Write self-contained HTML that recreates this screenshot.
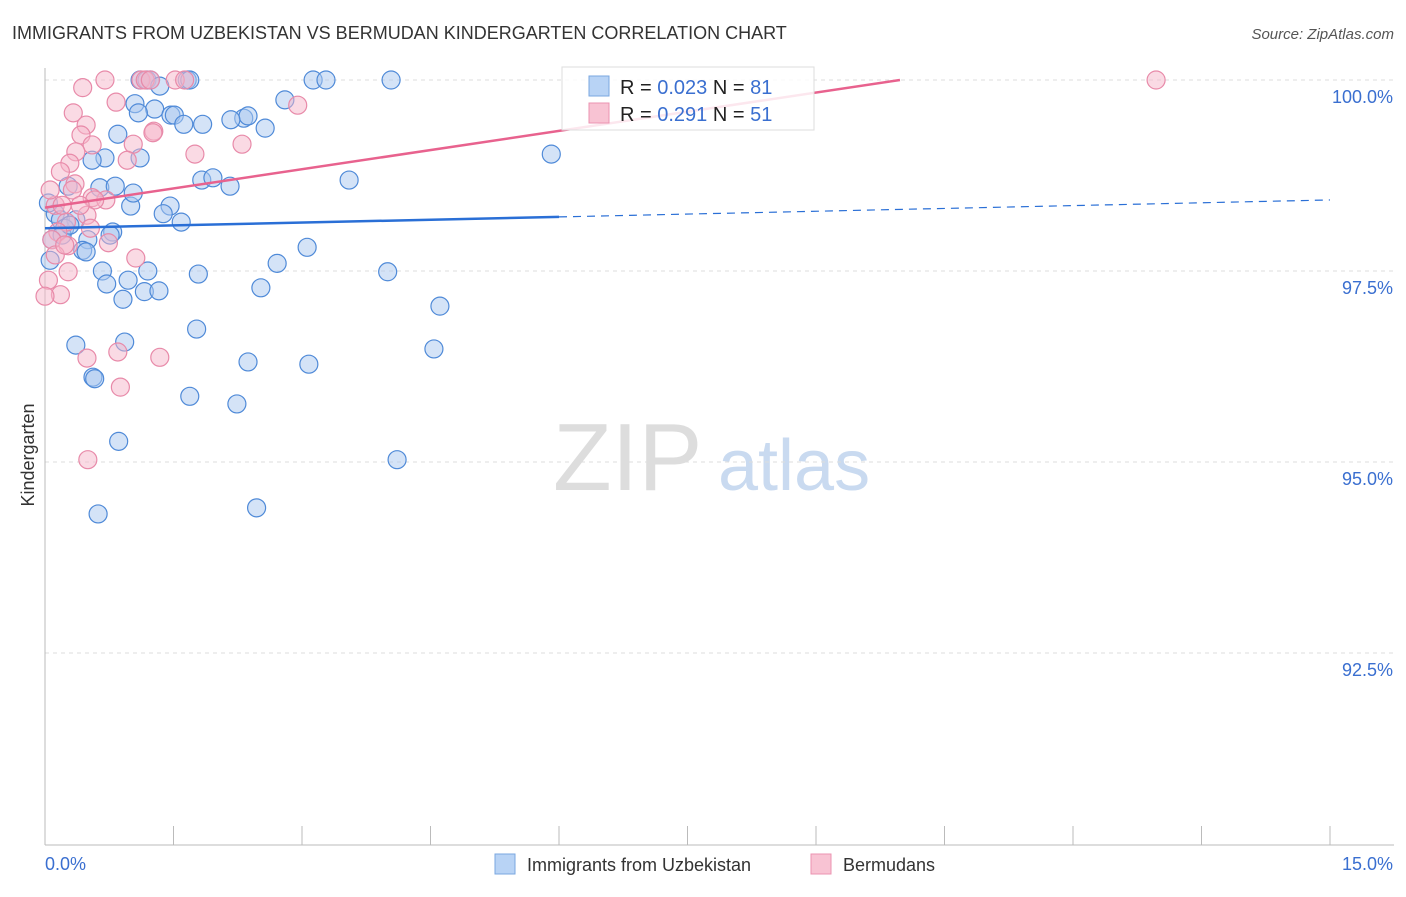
<!DOCTYPE html>
<html><head><meta charset="utf-8"><style>
body{margin:0;background:#fff;font-family:"Liberation Sans",sans-serif;}
svg text{font-family:"Liberation Sans",sans-serif;}
</style></head><body>
<svg id="chart" width="1406" height="892" xmlns="http://www.w3.org/2000/svg">
<text x="12" y="39" font-size="18" fill="#333">IMMIGRANTS FROM UZBEKISTAN VS BERMUDAN KINDERGARTEN CORRELATION CHART</text>
<text x="1394" y="39" font-size="15" fill="#555" font-style="italic" text-anchor="end">Source: ZipAtlas.com</text>
<text transform="translate(34,455) rotate(-90)" font-size="18" fill="#333" text-anchor="middle">Kindergarten</text>
<g>
<text x="553" y="490" font-size="96" fill="#ddd" font-family="Liberation Serif">ZIP</text>
<text x="718" y="490" font-size="72" fill="#c9daf0">atlas</text>
</g>
<g id="grid"></g><g id="axes"></g><g id="pts"></g><g id="lines"></g>
<g>
<rect x="562" y="67" width="252" height="63" fill="#fff" fill-opacity="0.85" stroke="#ddd"/>
<rect x="589" y="76" width="20" height="20" fill="#b8d3f5" stroke="#7aa7e0"/>
<rect x="589" y="103" width="20" height="20" fill="#f8c3d3" stroke="#eb93b0"/>
<text x="620" y="94" font-size="20" fill="#222">R = <tspan fill="#3a6fd0">0.023</tspan>   N = <tspan fill="#3a6fd0">81</tspan></text>
<text x="620" y="121" font-size="20" fill="#222">R =  <tspan fill="#3a6fd0">0.291</tspan>   N = <tspan fill="#3a6fd0">51</tspan></text>
</g>
<g>
<rect x="495" y="854" width="20" height="20" fill="#b8d3f5" stroke="#7aa7e0"/>
<text x="527" y="871" font-size="18" fill="#333">Immigrants from Uzbekistan</text>
<rect x="811" y="854" width="20" height="20" fill="#f8c3d3" stroke="#eb93b0"/>
<text x="843" y="871" font-size="18" fill="#333">Bermudans</text>
</g>
</svg>
<script>
const blueX=[1.11,1.19,1.23,1.66,1.69,3.13,3.28,4.04,1.34,1.05,1.28,1.09,1.47,1.51,2.80,2.32,2.37,2.17,1.62,1.84,2.57,0.85,0.70,0.55,1.11,5.91,1.83,1.96,2.16,3.55,0.64,0.82,0.27,1.00,1.03,1.46,1.38,1.59,0.12,0.18,0.36,0.04,0.23,0.79,0.76,0.50,3.06,0.44,0.48,0.06,0.67,1.20,1.79,2.71,4.00,0.97,0.72,1.16,1.33,0.91,2.52,4.61,1.77,0.93,0.36,4.54,2.37,3.08,0.56,0.58,1.69,2.24,0.86,4.11,2.47,0.62,0.08,0.20,0.29];
const blueY=[100,100,100,100,100,100,100,100,99.92,99.69,99.62,99.57,99.54,99.54,99.74,99.50,99.53,99.48,99.42,99.42,99.37,99.29,98.98,98.95,98.98,99.03,98.69,98.72,98.61,98.69,98.59,98.61,98.61,98.35,98.52,98.35,98.25,98.14,98.25,98.17,98.17,98.39,98.06,98.01,97.97,97.91,97.81,97.77,97.75,97.64,97.50,97.50,97.46,97.60,97.49,97.38,97.33,97.23,97.24,97.13,97.28,97.04,96.74,96.57,96.53,96.48,96.31,96.28,96.11,96.09,95.86,95.76,95.27,95.03,94.40,94.32,97.91,97.97,98.10];
const pinkX=[0.70,1.12,1.17,1.23,1.52,1.63,12.97,0.44,0.83,2.95,0.33,0.48,0.42,1.27,1.26,0.55,1.03,2.30,0.36,0.96,1.75,0.29,0.18,0.35,0.32,0.55,0.71,0.58,0.12,0.49,0.25,0.15,0.53,0.08,0.74,0.27,1.06,0.04,0.18,0.27,0.49,0.85,1.34,0.88,0.50,0.12,0.06,0.20,0.00,0.41,0.23];
const pinkY=[100,100,100,100,100,100,100,99.90,99.71,99.67,99.57,99.41,99.28,99.33,99.31,99.15,99.16,99.16,99.06,98.95,99.03,98.91,98.80,98.64,98.56,98.46,98.43,98.43,98.36,98.23,98.14,98.01,98.06,97.91,97.87,97.83,97.67,97.38,97.19,97.49,96.36,96.44,96.37,95.98,95.03,97.71,98.56,98.36,97.17,98.36,97.84];
const blueTrend=[98.06,98.43];
const pinkTrend=[98.33,100.84];
const yTicks=[100,97.5,95,92.5];
const yTickLabels=["100.0%","97.5%","95.0%","92.5%"];
const xTicks=[0,1.5,3,4.5,6,7.5,9,10.5,12,13.5,15];

const NS="http://www.w3.org/2000/svg";
const sx=v=>45+v*(1285/15);
const sy=v=>80+(100-v)*(191/2.5);
function mk(tag,attrs,parent){const e=document.createElementNS(NS,tag);for(const k in attrs)e.setAttribute(k,attrs[k]);parent.appendChild(e);return e;}
const grid=document.getElementById('grid'),axes=document.getElementById('axes'),pts=document.getElementById('pts'),lines=document.getElementById('lines');
yTicks.forEach((t,i)=>{
  const l=mk('line',{x1:45,x2:1394,y1:sy(t),y2:sy(t),stroke:'#ddd','stroke-dasharray':'4,4'},grid);
  
  
  const tx=mk('text',{x:1393,y:sy(t)+23,'font-size':18,fill:'#3a6fd0','text-anchor':'end'},axes);
  tx.textContent=yTickLabels[i];
  
  
});
const ax=mk('line',{x1:45,x2:1394,y1:845,y2:845,stroke:'#bbb'},axes);


const ay=mk('line',{x1:45,x2:45,y1:68,y2:845,stroke:'#bbb'},axes);


xTicks.forEach(t=>{
  const l=mk('line',{x1:sx(t),x2:sx(t),y1:826,y2:845,stroke:'#bbb'},axes);
  
  
});
const x0=mk('text',{x:45,y:870,'font-size':18,fill:'#3a6fd0'},axes);x0.textContent="0.0%";


const x1=mk('text',{x:1393,y:870,'font-size':18,fill:'#3a6fd0','text-anchor':'end'},axes);x1.textContent="15.0%";


blueX.forEach((x,i)=>{
  const c=mk('circle',{cx:sx(x),cy:sy(blueY[i]),r:9,fill:'#a9c8f0','fill-opacity':0.5,stroke:'#4f8ad8','stroke-width':1.2},pts);
  
  
});
pinkX.forEach((x,i)=>{
  const c=mk('circle',{cx:sx(x),cy:sy(pinkY[i]),r:9,fill:'#f6b6ca','fill-opacity':0.5,stroke:'#e88aa9','stroke-width':1.2},pts);
  
  
});
const by=x=>blueTrend[0]+(blueTrend[1]-blueTrend[0])*x/15;
const bl=mk('line',{x1:sx(0),y1:sy(by(0)),x2:sx(6),y2:sy(by(6)),stroke:'#2a6fd6','stroke-width':2.5},lines);


const bd=mk('line',{x1:sx(6),y1:sy(by(6)),x2:sx(15),y2:sy(by(15)),stroke:'#2a6fd6','stroke-width':1.2,'stroke-dasharray':'8,6'},lines);


const py=x=>pinkTrend[0]+(pinkTrend[1]-pinkTrend[0])*x/15;
const xe=15*(100-pinkTrend[0])/(pinkTrend[1]-pinkTrend[0]);
const pl=mk('line',{x1:sx(0),y1:sy(py(0)),x2:sx(xe),y2:sy(100),stroke:'#e8628e','stroke-width':2.5},lines);


</script>
</body></html>
